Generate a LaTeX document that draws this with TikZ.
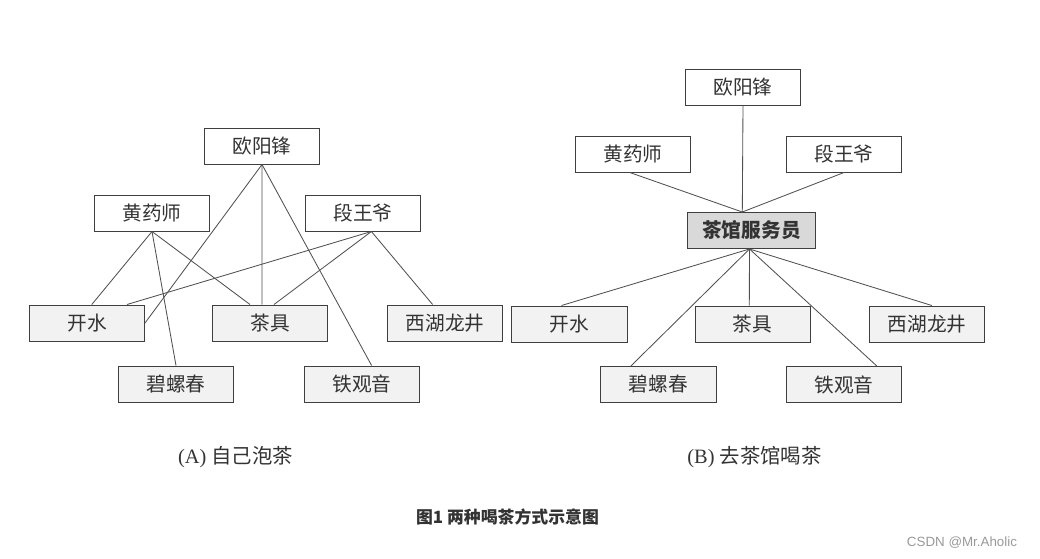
\documentclass[tikz,border=0pt]{standalone}
\usepackage{fontspec}
\usepackage{xcolor}
\setmainfont{Liberation Serif}
\newfontfamily\cjk{Noto Sans CJK SC}
\newfontfamily\marksans{Liberation Sans}
\definecolor{boxline}{HTML}{3F3F3F}
\definecolor{linkgray}{HTML}{505050}
\definecolor{textgray}{HTML}{333333}
\definecolor{leafgray}{HTML}{F2F2F2}
\definecolor{hubgray}{HTML}{D9D9D9}

\begin{document}
\begin{tikzpicture}[x=0.025cm, y=-0.025cm,
    person/.style={draw=boxline, line width=0.7pt, fill=white,
      minimum width=2.875cm, minimum height=0.9cm, inner sep=0pt,
      font=\cjk\fontsize{14}{16}\selectfont, text=textgray},
    item/.style={person, fill=leafgray},
    hub/.style={person, fill=hubgray, minimum width=3.2cm,
      font=\cjk\bfseries\fontsize{14}{16}\selectfont},
    link/.style={draw=linkgray, line width=0.6pt}
  ]
  \useasboundingbox (0,0) rectangle (1040,559);

  % (A) left
  \node[person] (ouyangA) at (262,146) {欧阳锋};
  \node[person] (huangA) at (152,213) {黄药师};
  \node[person] (duanA) at (363,213) {段王爷};
  \node[item] (kaishuiA) at (87,323) {开水};
  \node[item] (chajuA) at (270,323) {茶具};
  \node[item] (xihuA) at (445,323) {西湖龙井};
  \node[item] (biluoA) at (176,384) {碧螺春};
  \node[item] (tieA) at (362,384) {铁观音};

  \draw[link] (ouyangA.south) -- (kaishuiA.east);
  \draw[link] (ouyangA.south) -- ([xshift=-0.2cm]chajuA.north);
  \draw[link] (ouyangA.south) -- ([xshift=0.24cm]tieA.north);
  \draw[link] (huangA.south) -- ([xshift=0.12cm]kaishuiA.north);
  \draw[link] (huangA.south) -- (biluoA.north);
  \draw[link] (huangA.south) -- ([xshift=-0.5cm]chajuA.north);
  \draw[link] ([xshift=0.21cm]duanA.south) -- ([xshift=1cm]kaishuiA.north);
  \draw[link] ([xshift=0.21cm]duanA.south) -- ([xshift=0.1cm]chajuA.north);
  \draw[link] ([xshift=0.21cm]duanA.south) -- ([xshift=-0.31cm]xihuA.north);

  % (B) right
  \node[person] (ouyangB) at (743,87) {欧阳锋};
  \node[person] (huangB) at (633,154) {黄药师};
  \node[person] (duanB) at (844,154) {段王爷};
  \node[hub] (waiter) at (751.5,230.5) {茶馆服务员};
  \node[item] (kaishuiB) at (569.5,324) {开水};
  \node[item] (chajuB) at (752.5,324) {茶具};
  \node[item] (xihuB) at (927,324) {西湖龙井};
  \node[item] (biluoB) at (658.5,384.5) {碧螺春};
  \node[item] (tieB) at (844,384.5) {铁观音};

  \draw[link] (ouyangB.south) -- ([xshift=-0.23cm]waiter.north);
  \draw[link] ([xshift=-0.08cm]huangB.south) -- ([xshift=-0.23cm]waiter.north);
  \draw[link] (duanB.south) -- ([xshift=-0.23cm]waiter.north);
  \draw[link] ([xshift=-0.05cm]waiter.south) -- ([xshift=-0.2cm]kaishuiB.north);
  \draw[link] ([xshift=-0.05cm]waiter.south) -- ([xshift=-0.69cm]biluoB.north);
  \draw[link] ([xshift=-0.05cm]waiter.south) -- ([xshift=-0.08cm]chajuB.north);
  \draw[link] ([xshift=-0.05cm]waiter.south) -- ([xshift=0.82cm]tieB.north);
  \draw[link] ([xshift=-0.05cm]waiter.south) -- ([xshift=0.12cm]xihuB.north);

  % captions
  \node[text=textgray, font=\fontsize{14.5}{16}\selectfont] (capA) at (235.5,457) {(A) {\cjk 自己泡茶}};
  \node[text=textgray, font=\fontsize{14.5}{16}\selectfont] (capB) at (754.5,457) {(B) {\cjk 去茶馆喝茶}};
  \node[text=textgray, font=\cjk\bfseries\fontsize{12}{14}\selectfont] (title) at (507.5,517) {图1 两种喝茶方式示意图};
  \node[text=gray!80, font=\marksans\fontsize{9.5}{11}\selectfont] (mark) at (962,543) {CSDN @Mr.Aholic};
\end{tikzpicture}
\end{document}
